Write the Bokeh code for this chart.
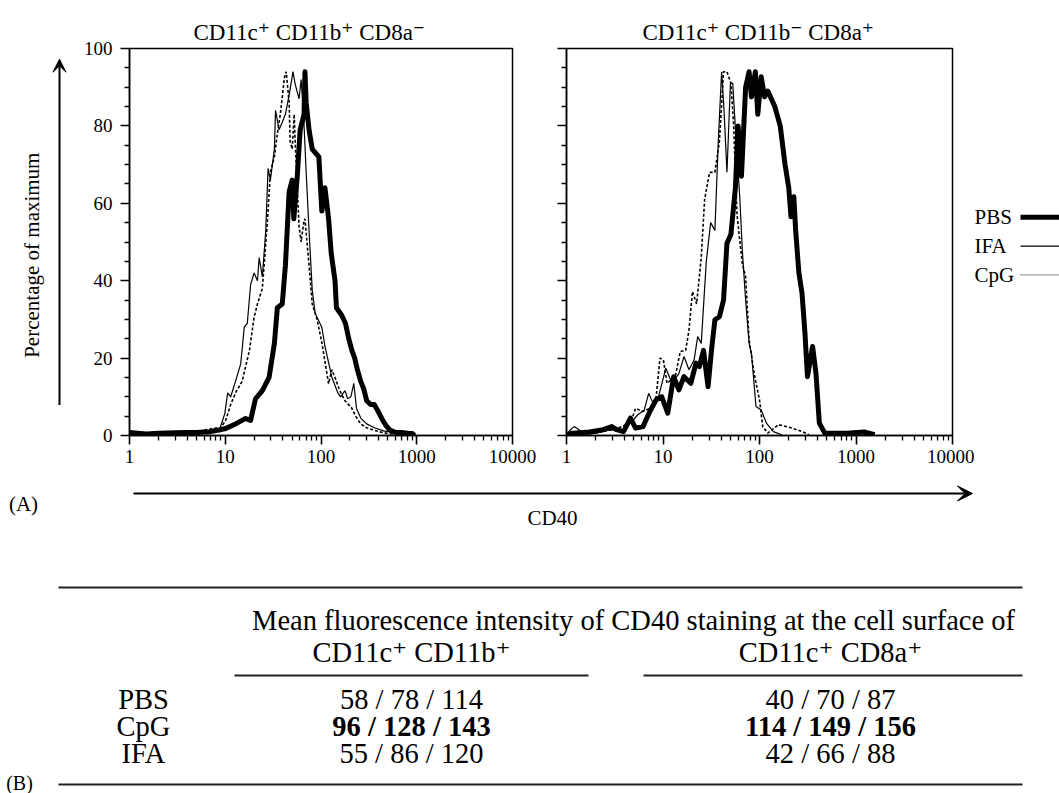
from math import pi
from bokeh.plotting import figure
from bokeh.layouts import column, row
from bokeh.models import (Range1d, FixedTicker, CustomJSTickFormatter, Arrow, VeeHead)
from bokeh.core.properties import value
from bokeh.embed import file_html
from bokeh.resources import INLINE

FONT = "Liberation Serif, DejaVu Serif, serif"

# ---------------- data ----------------
titles = ["CD11c\u207a CD11b\u207a CD8a\u207b", "CD11c\u207a CD11b\u207b CD8a\u207a"]
x_tick_values = [1, 10, 100, 1000, 10000]
y_tick_values = [0, 20, 40, 60, 80, 100]
series_names = ["PBS", "IFA", "CpG"]

left_pbs_x = [1, 1.5, 2, 3, 4, 5, 6, 7, 8, 9, 10.1, 12.8, 16.3, 18.4, 20.7, 24.4, 28.7, 32.6, 35, 39.4,
              42.5, 46.5, 50, 52, 56.5, 60.6, 66.5, 68, 70, 75, 81, 95, 102, 110, 120, 128, 140, 145,
              165, 180, 195, 210, 225, 240, 260, 280, 300, 330, 360, 400, 440, 480, 520, 600, 700,
              800, 900, 950]
left_pbs_y = [0.8, 0.4, 0.6, 0.7, 0.8, 0.8, 0.9, 1.0, 1.3, 1.5, 1.8, 3.0, 4.4, 3.9, 9.5, 11.6, 15, 23.8, 33, 34,
              44, 63, 66, 56, 67, 79, 83, 94, 86, 79, 74, 72, 58, 64, 56, 47, 40, 33,
              31, 29, 25, 22, 20, 17, 14, 12, 9, 8, 8, 6, 4, 2.5, 1.5, 0.8, 0.8,
              0.6, 0.5, 0.0]

left_ifa_x = [1, 1.2, 1.5, 2, 3, 4, 5, 6, 7, 8, 8.8, 9.9, 10.6, 11.4, 12.8, 14.5, 15.8, 17, 18.4, 20,
              21.7, 22.6, 24.4, 26.5, 28, 29.6, 32.6, 33.5, 36.5, 39.5, 42.5, 46.5, 51, 53.5, 59, 62,
              66, 70, 75, 81, 87, 102, 110, 130, 150, 160, 178, 190, 205, 220, 235, 260, 300, 360,
              450, 550, 700, 800, 1000]
left_ifa_y = [1.2, 0.3, 0.2, 0.4, 0.5, 0.6, 0.8, 1.0, 1.4, 1.6, 1.8, 5.7, 11, 10, 14, 18.5, 28, 29, 39, 42,
              40, 46, 41, 53, 69, 66, 74, 84, 79, 81, 83, 88, 94, 91, 87, 92,
              82, 68, 53, 37.5, 31.5, 28, 23, 15, 11, 10, 11.6, 9.5, 10, 13.5, 7, 4.5, 3, 2,
              1.2, 0.8, 0.4, 0.3, 0.0]

left_cpg_x = [1, 2, 3, 4, 5, 5.8, 7.4, 9, 10.1, 11.4, 12.8, 15, 17.9, 20, 21.7, 24.4, 27.5, 29.6, 32.6, 35,
              37.6, 41.5, 43.3, 46.5, 47.6, 50, 52.5, 53.5, 59, 62, 66, 68, 75, 81, 91, 102, 120, 130,
              140, 157, 178, 208, 230, 260, 300, 400, 500, 700, 900]
left_cpg_y = [0.4, 0.5, 0.6, 0.8, 1.0, 1.3, 1.8, 2.0, 3.9, 8, 11, 14, 22, 30.5, 34, 38, 55, 68, 72, 78,
              83, 92.5, 94, 86, 76, 74, 83, 77, 54, 50, 55, 56, 44, 34, 30, 24, 13.4, 17,
              15, 11.6, 9, 7.2, 5, 3, 2, 1, 0.5, 0.2, 0.0]

right_pbs_x = [1, 1.15, 1.73, 2.4, 2.95, 3.3, 3.9, 4.6, 5.2, 6.2, 7.3, 8.5, 9.7, 11.2, 12.9, 14.6, 16.5,
               19.4, 22, 23.8, 26.3, 29.3, 31.8, 34.5, 38.4, 42.4, 46, 50.6, 56.3, 60, 65, 71.8, 78,
               82.5, 90.6, 96, 104, 113, 122, 144, 164, 184, 201, 212, 227, 237, 256, 276, 296, 314,
               355, 385, 417, 475, 808, 1212, 1560]
right_pbs_y = [0.3, 0.6, 0.9, 1.5, 2.3, 1.5, 1.0, 4.5, 1.9, 2.3, 6.2, 9.2, 10, 5.8, 15.2, 11.8, 15.2,
               13.5, 18.7, 17.8, 22, 12.6, 22, 29.9, 30.7, 35, 49.7, 52, 64, 80, 67, 90, 94,
               87.5, 94, 83, 92.7, 87.5, 89, 85, 80, 70, 64, 56.5, 61.7, 53, 42, 36.7, 26.4, 15.2,
               23, 16, 3.2, 0.6, 0.6, 0.9, 0.2]

right_ifa_x = [1, 1.1, 1.2, 1.35, 1.47, 2.04, 2.83, 3.6, 4.6, 5.45, 6.4, 7.1, 7.9, 8.9, 10.7, 12.4, 14.6,
               16.5, 18.6, 21, 22.9, 24.9, 28.1, 31.2, 34.5, 37.4, 40.5, 42.9, 46, 50, 52.8, 57.3,
               62.3, 66.3, 71.8, 78, 82.5, 92, 104, 118, 139, 170]
right_ifa_y = [0.2, 1.5, 2.3, 1.5, 0.2, 0.6, 1.5, 1.0, 3.2, 5.3, 6.6, 10.9, 8.3, 9.6, 17.4, 13.5, 16,
               20.4, 17, 19.5, 25.6, 23.8, 45, 55, 53, 76, 94, 84, 68, 91, 91, 76,
               62, 48, 35, 23.8, 21.3, 7.5, 6.6, 3.2, 1.0, 0.2]

right_cpg_x = [1.35, 2.2, 3.07, 4.6, 5.2, 6.2, 7.3, 8.5, 9.3, 10.1, 11, 13.4, 15.1, 17.2, 18.6, 20.2,
               22.3, 24.9, 27, 30.4, 34.5, 38.4, 42.4, 46, 50.6, 54, 58.5, 66.3, 71.8, 78, 88, 100,
               108, 122, 157, 218, 276, 326]
right_cpg_y = [0.6, 1.0, 1.5, 3.2, 7, 6.2, 7, 10, 20, 19.5, 13.5, 15.2, 21.7, 22, 27.3, 37.2,
               34, 46, 61, 68, 68, 76, 94, 94, 91, 80, 57, 44.5, 41, 24.7, 16, 9.2,
               2.3, 0.6, 2.8, 1.9, 1.0, 0.2]

table_title = "Mean fluorescence intensity of CD40 staining at the cell surface of"
table_columns = ["CD11c\u207a CD11b\u207a", "CD11c\u207a CD8a\u207a"]
table_rows = ["PBS", "CpG", "IFA"]
mfi_cd11b = [[58, 78, 114], [96, 128, 143], [55, 86, 120]]
mfi_cd8a = [[40, 70, 87], [114, 149, 156], [42, 66, 88]]
bold_row = "CpG"

# ---------------- styles ----------------
STYLE = {
    "PBS": dict(line_width=5, line_color="black", line_join="round"),
    "IFA": dict(line_width=1.2, line_color="black"),
    "CpG": dict(line_width=1.6, line_color="black", line_dash="3 2"),
}

minor_x = [m * d for d in [1, 10, 100, 1000] for m in range(2, 10)]
minor_y = [v for v in range(0, 101, 5) if v % 20 != 0]


def panel(width, left, right, title, title_offset, show_labels, data):
    p = figure(width=width, height=470, x_axis_type="log",
               x_range=Range1d(1, 10000), y_range=Range1d(0, 100),
               output_backend="svg", toolbar_location=None,
               min_border_left=left, min_border_right=right,
               min_border_top=48, min_border_bottom=35)
    p.title.text = title
    p.title.align = "left"
    p.title.offset = title_offset
    p.title.text_font = FONT
    p.title.text_font_size = "23px"
    p.title.text_font_style = "normal"
    p.title.text_color = "black"
    p.title.standoff = 8
    p.xgrid.visible = False
    p.ygrid.visible = False
    p.outline_line_color = "black"
    p.outline_line_width = 1.5
    p.background_fill_color = "white"
    p.border_fill_color = "white"
    p.xaxis.ticker = FixedTicker(ticks=x_tick_values, minor_ticks=minor_x)
    p.yaxis.ticker = FixedTicker(ticks=y_tick_values, minor_ticks=minor_y)
    p.xaxis.formatter = CustomJSTickFormatter(code="return String(Math.round(tick));")
    if not show_labels:
        p.yaxis.formatter = CustomJSTickFormatter(code="return '';")
    p.axis.axis_line_color = "black"
    p.axis.axis_line_width = 1.5
    p.axis.major_tick_line_color = "black"
    p.axis.minor_tick_line_color = "black"
    p.axis.major_tick_line_width = 1.6
    p.axis.minor_tick_line_width = 1.3
    p.axis.major_tick_out = 9
    p.axis.major_tick_in = 0
    p.axis.minor_tick_out = 5
    p.axis.minor_tick_in = 0
    p.axis.major_label_text_font = FONT
    p.axis.major_label_text_font_size = "19px"
    p.axis.major_label_text_color = "black"
    p.xaxis.major_label_standoff = 5
    p.yaxis.major_label_standoff = 8
    for name in ["IFA", "CpG", "PBS"]:
        xs, ys = data[name]
        p.line(xs, ys, **STYLE[name])
    return p


left = panel(460, 46, 28, titles[0], 64, True,
             {"PBS": (left_pbs_x, left_pbs_y), "IFA": (left_ifa_x, left_ifa_y),
              "CpG": (left_cpg_x, left_cpg_y)})
right = panel(434, 26, 22, titles[1], 76, False,
              {"PBS": (right_pbs_x, right_pbs_y), "IFA": (right_ifa_x, right_ifa_y),
               "CpG": (right_cpg_x, right_cpg_y)})


def blank(width, height, xr, yr):
    p = figure(width=width, height=height, x_range=xr, y_range=yr,
               output_backend="svg", toolbar_location=None,
               min_border=0, min_border_left=0, min_border_right=0,
               min_border_top=0, min_border_bottom=0)
    p.axis.visible = False
    p.grid.visible = False
    p.outline_line_color = None
    p.background_fill_color = "white"
    p.border_fill_color = "white"
    return p


# y-label strip
ylab = blank(80, 470, Range1d(0, 80), Range1d(470, 0))
ylab.add_layout(Arrow(end=VeeHead(size=13, fill_color="black", line_color="black"),
                      x_start=59, y_start=433, x_end=59, y_end=13,
                      line_width=2, line_color="black"))
ylab.text(x=[31], y=[251], text=["Percentage of maximum"], angle=pi / 2,
          text_font=value(FONT), text_font_size=value("21px"),
          text_align="center", text_baseline="middle", text_color="black")

# legend strip
leg = blank(85, 470, Range1d(974, 1059), Range1d(470, 0))
leg_y = [205, 240, 275]
leg_order = ["PBS", "IFA", "CpG"]
leg.text(x=[974] * 3, y=leg_y, text=leg_order, text_font=value(FONT),
         text_font_size=value("21px"), text_align="left", text_baseline="middle",
         text_color="black")
leg.segment(x0=[1020], y0=[leg_y[0]], x1=[1059], y1=[leg_y[0]], line_width=5, line_color="black")
leg.segment(x0=[1020], y0=[leg_y[1]], x1=[1059], y1=[leg_y[1]], line_width=1.2, line_color="black")
leg.segment(x0=[1020], y0=[leg_y[2]], x1=[1059], y1=[leg_y[2]], line_width=1.2, line_color="#444444",
            line_dash="1 1")

# bottom: x-axis arrow + table
bot = blank(1059, 323, Range1d(0, 1059), Range1d(793, 470))
bot.add_layout(Arrow(end=VeeHead(size=15, fill_color="black", line_color="black"),
                     x_start=133, y_start=493, x_end=972, y_end=493,
                     line_width=2, line_color="black"))
bot.text(x=[23, 552], y=[503, 517], text=["(A)", "CD40"], text_font=value(FONT),
         text_font_size=value("21px"), text_align="center", text_baseline="middle",
         text_color="black")
bot.text(x=[19], y=[782], text=["(B)"], text_font=value(FONT),
         text_font_size=value("20px"), text_align="center", text_baseline="middle",
         text_color="black")

TFS = "28.5px"
bot.segment(x0=[58, 58, 234, 643], y0=[587, 784, 675, 675],
            x1=[1022, 1022, 588, 1022], y1=[587, 784, 675, 675],
            line_width=1.8, line_color="#222222")
bot.text(x=[633], y=[620], text=[table_title], text_font=value(FONT),
         text_font_size=value(TFS), text_align="center", text_baseline="middle",
         text_color="black")
col_x = [411, 830]
bot.text(x=col_x, y=[652, 652], text=table_columns, text_font=value(FONT),
         text_font_size=value(TFS), text_align="center", text_baseline="middle",
         text_color="black")
row_y = [699, 726, 753]
for i, name in enumerate(table_rows):
    style = "bold" if name == bold_row else "normal"
    bot.text(x=[143], y=[row_y[i]], text=[name], text_font=value(FONT),
             text_font_size=value(TFS), text_align="center", text_baseline="middle",
             text_color="black")
    cells = [" / ".join(str(v) for v in mfi_cd11b[i]), " / ".join(str(v) for v in mfi_cd8a[i])]
    bot.text(x=col_x, y=[row_y[i]] * 2, text=cells, text_font=value(FONT),
             text_font_size=value(TFS), text_font_style=style, text_align="center",
             text_baseline="middle", text_color="black")

layout = column(row(ylab, left, right, leg), bot)
open("out.html", "w").write(file_html(layout, INLINE))
